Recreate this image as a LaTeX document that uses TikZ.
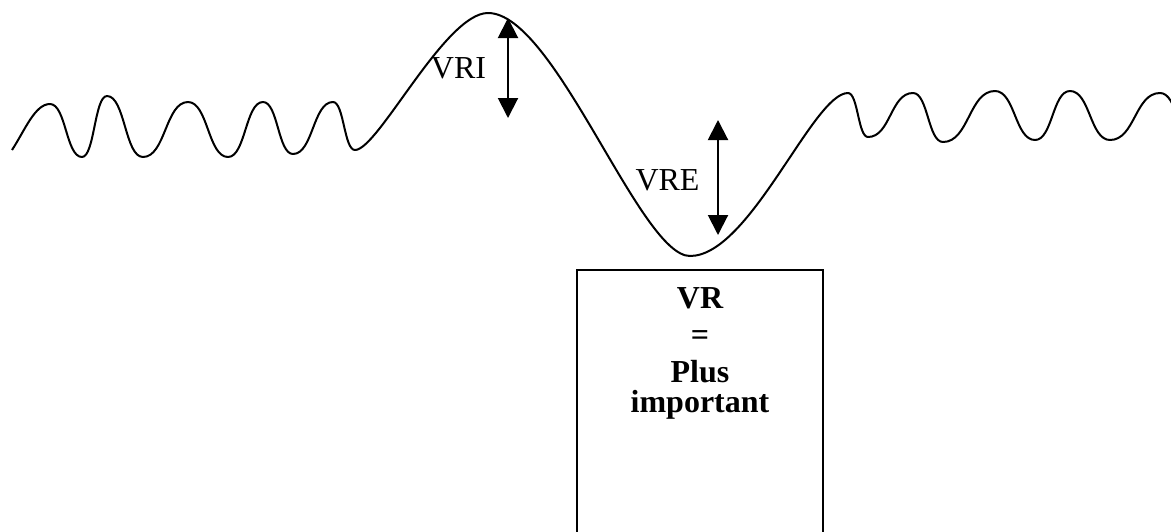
\documentclass[tikz,border=0pt]{standalone}
\usepackage{fontspec}
\setmainfont{Liberation Serif}
\usetikzlibrary{arrows.meta}
\begin{document}
\begin{tikzpicture}[x=0.5pt,y=-0.5pt,
  wave/.style={line width=1pt, line join=round},
  vrarrow/.style={line width=1pt, {Triangle[length=10pt,width=10pt]}-{Triangle[length=10pt,width=10pt]}},
  lbl/.style={font=\fontsize{16}{19}\selectfont, inner sep=0pt, anchor=base},
  vrbox/.style={draw, line width=1pt, minimum width=123pt, minimum height=150pt, anchor=north, inner sep=0pt},
  boxtext/.style={font=\fontsize{16}{18.5}\selectfont\bfseries, align=center, inner sep=0pt, anchor=north}]
\useasboundingbox (0,0) rectangle (1171,531);
\begin{scope}
\clip (0,0) rectangle (1171,531);
\draw[wave] (12,150) .. controls (25,130) and (35,104) .. (50,104)
 .. controls (66,104) and (66,157) .. (82,157)
 .. controls (94.5,157) and (94.5,96) .. (107,96)
 .. controls (125,96) and (125,157) .. (143,157)
 .. controls (165.5,157) and (165.5,102) .. (188,102)
 .. controls (208,102) and (208,157) .. (228,157)
 .. controls (245.5,157) and (245.5,102) .. (263,102)
 .. controls (278,102) and (278,154) .. (293,154)
 .. controls (313,154) and (313,102) .. (333,102)
 .. controls (344,102) and (344,150) .. (355,150)
 .. controls (378,150) and (445,13) .. (488,13)
 .. controls (555,13) and (640,256) .. (690,256)
 .. controls (750,256) and (813,93) .. (848,93)
 .. controls (858,93) and (858,137) .. (868,137)
 .. controls (890.5,137) and (890.5,93) .. (913,93)
 .. controls (928,93) and (928,142) .. (943,142)
 .. controls (969,142) and (969,91) .. (995,91)
 .. controls (1015,91) and (1015,140) .. (1035,140)
 .. controls (1052.5,140) and (1052.5,91) .. (1070,91)
 .. controls (1090,91) and (1090,140) .. (1110,140)
 .. controls (1135,140) and (1135,93) .. (1160,93)
 .. controls (1177.5,93) and (1177.5,140) .. (1195,140);
\node[vrbox] (box) at (700,269) {};
\end{scope}
\node[boxtext] (vrtext) at (700,287) {VR\\=\\Plus\\[-3.5pt]important};
\node[lbl] (vri) at (458.5,78) {VRI};
\node[lbl] (vre) at (667.5,190) {VRE};
\coordinate (vriTop) at (508,18);
\coordinate (vriBot) at (508,118);
\coordinate (vreTop) at (718,120);
\coordinate (vreBot) at (718,235);
\draw[vrarrow] (vriTop) -- (vriBot);
\draw[vrarrow] (vreTop) -- (vreBot);
\end{tikzpicture}
\end{document}
